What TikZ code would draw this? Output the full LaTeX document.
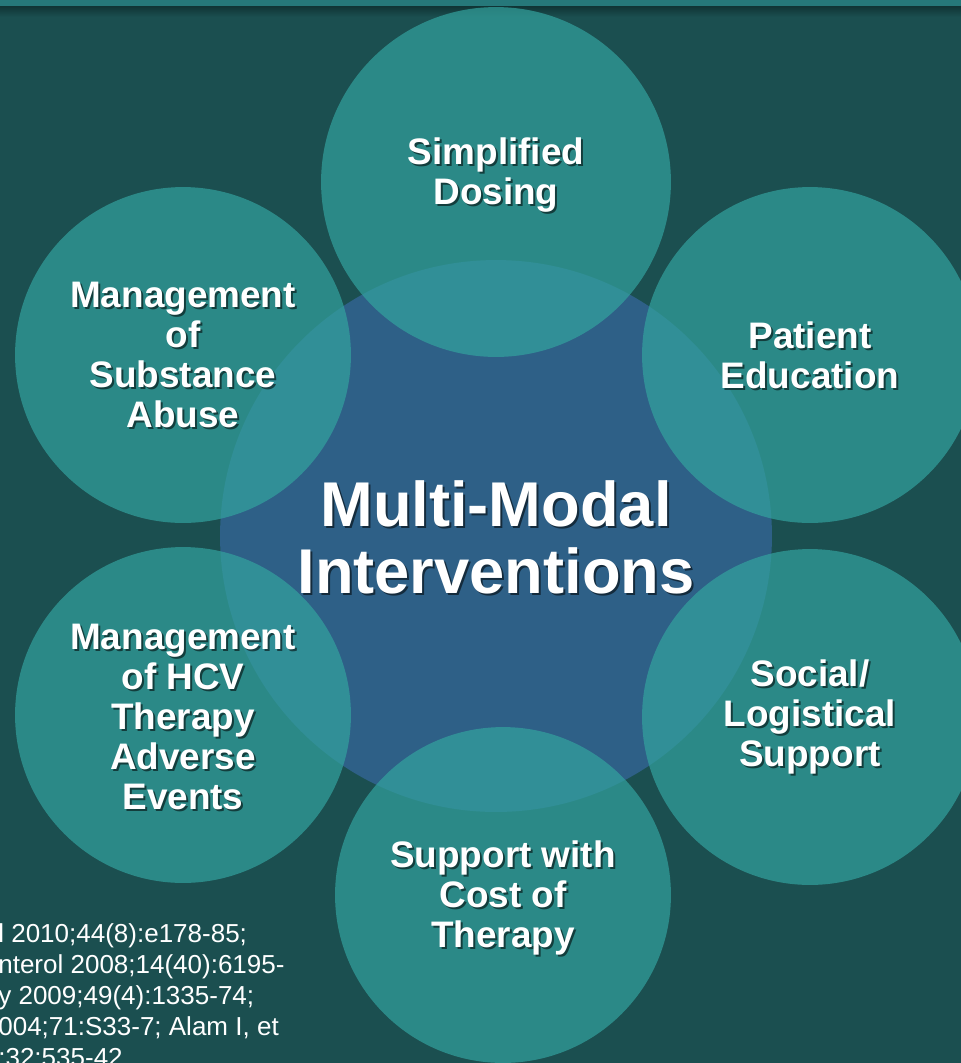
\documentclass[tikz,border=0pt]{standalone}
\usepackage{fontspec}
\setmainfont{Liberation Sans}
\usepackage{tikz}
\definecolor{slatebg}{RGB}{27,79,80}
\definecolor{barteal}{RGB}{38,120,122}
\definecolor{barshade}{RGB}{16,52,53}
\definecolor{petalteal}{RGB}{51,163,159}
\definecolor{hubblue}{RGB}{46,96,135}

\begin{document}
\begin{tikzpicture}[x=0.02cm, y=-0.02cm,
				petal/.style={circle, fill=petalteal, fill opacity=0.7, inner sep=0pt, minimum size=#1*0.04cm},
				petaltext/.style={text=white, align=center, inner sep=0pt, font=\fontsize{21}{22.8}\selectfont\bfseries},
				hubtext/.style={text=white, align=center, inner sep=0pt, font=\fontsize{36}{38}\selectfont\bfseries},
				textshade/.style={text=black, text opacity=0.55},
				refline/.style={text=white, inner sep=0pt, anchor=base west, font=\fontsize{14.8}{17.6}\selectfont}]
				\useasboundingbox (0,0) rectangle (961,1063);
				\clip (0,0) rectangle (961,1063);
				%Hintergrund
				\fill[slatebg] (0,0) rectangle (961,1063);
				\shade[top color=barshade, bottom color=slatebg] (0,6) rectangle (961,17);
				\fill[barteal] (0,0) rectangle (961,6);
				% Mittelkreis
				\node[circle, fill=hubblue, inner sep=0pt, minimum size=11.04cm] (hub) at (496,536) {};
				% Kreise ringsum
				\foreach \name/\px/\py/\r in {dosing/496/182/175, education/810/355/168, substance/183/355/168,
					hcv/183/715/168, social/810/717/168, cost/503/895/168}
					\node[petal=\r] (\name) at (\px,\py) {};
				% Beschriftung mit Schatten
				\foreach \name/\px/\py/\txt in {dosing/496/175/{Simplified\\Dosing},
					education/810/355/{Patient\\Education},
					substance/183/355/{Management\\of\\Substance\\Abuse},
					hcv/183/717/{Management\\of HCV\\Therapy\\Adverse\\Events},
					social/810/717/{Social/\\Logistical\\Support},
					cost/503/898/{Support with\\Cost of\\Therapy}} {
					\node[petaltext, textshade] (\name-sh) at (\px+2,\py+2) {\txt};
					\node[petaltext] (\name-txt) at (\px,\py) {\txt};
				}
				\node[hubtext, textshade] (hub-sh) at (498,539) {Multi-Modal\\Interventions};
				\node[hubtext] (hub-txt) at (496,537) {Multi-Modal\\Interventions};
				% Quellen unten links
				\foreach \n/\txt in {0/{l 2010;44(8):e178-85;}, 1/{nterol 2008;14(40):6195-},
					2/{y 2009;49(4):1335-74;}, 3/{004;71:S33-7; Alam I, et}, 4/{:32:535-42}}
					\node[refline] (ref-\n) at (-2,942+31*\n) {\txt};
			\end{tikzpicture}
\end{document}
